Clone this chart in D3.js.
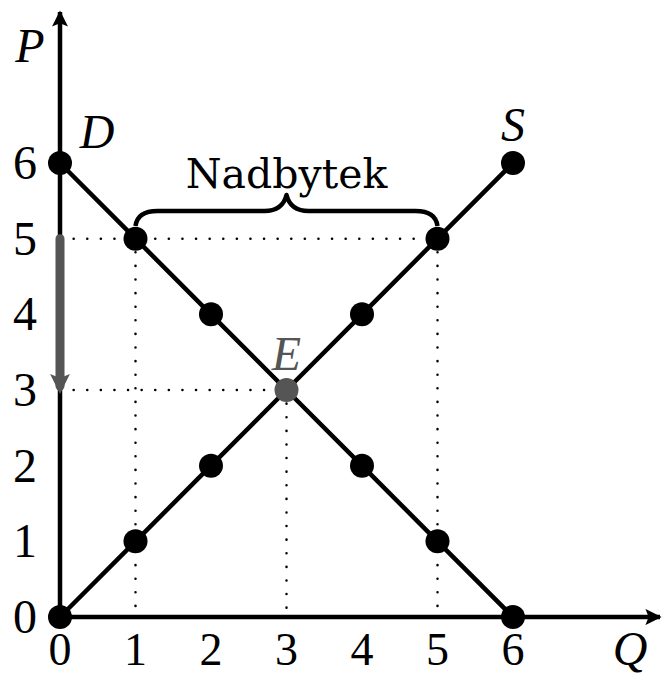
<!DOCTYPE html>
<html>
<head>
<meta charset="utf-8">
<script src="https://cdn.jsdelivr.net/npm/d3@7"></script>
<style>
  body { margin: 0; background: #fff; }
  text { font-family: "Liberation Serif", "DejaVu Serif", serif; }
</style>
</head>
<body>
<div class="canvas"></div>
<script>
// data
const ticks = [0, 1, 2, 3, 4, 5, 6];
const demand = [[0, 6], [1, 5], [2, 4], [3, 3], [4, 2], [5, 1], [6, 0]];
const supply = [[0, 0], [1, 1], [2, 2], [3, 3], [4, 4], [5, 5], [6, 6]];
const equilibrium = [3, 3];
const priceHigh = 5;
const surplusQ = [1, 5];

const width = 662, height = 675;
const svg = d3.select('.canvas').append('svg')
  .attr('width', width).attr('height', height);

const x = d3.scaleLinear().domain([0, 6]).range([60, 513]);
const y = d3.scaleLinear().domain([0, 6]).range([617, 163]);

const defs = svg.append('defs');
defs.append('marker').attr('id', 'ax').attr('viewBox', '0 0 10 10')
  .attr('refX', 9).attr('refY', 5).attr('markerWidth', 3.6).attr('markerHeight', 3.6)
  .attr('orient', 'auto').attr('markerUnits', 'strokeWidth')
  .append('path').attr('d', 'M0,0 L10,5 L0,10 L2,5 Z').attr('fill', 'black');
defs.append('marker').attr('id', 'gr').attr('viewBox', '0 0 10 10')
  .attr('refX', 6).attr('refY', 5).attr('markerWidth', 2.2).attr('markerHeight', 2.2)
  .attr('orient', 'auto').attr('markerUnits', 'strokeWidth')
  .append('path').attr('d', 'M0,0 L10,5 L0,10 L2,5 Z').attr('fill', '#555');

// dotted guides
const dots = svg.append('g').attr('stroke', 'black').attr('stroke-width', 2.5)
  .attr('stroke-dasharray', '0.1 13.5').attr('stroke-linecap', 'round');
dots.append('line').attr('x1', x(0)).attr('x2', x(surplusQ[1])).attr('y1', y(priceHigh)).attr('y2', y(priceHigh));
surplusQ.forEach(q => dots.append('line').attr('x1', x(q)).attr('x2', x(q)).attr('y1', y(priceHigh)).attr('y2', y(0)));
dots.append('line').attr('x1', x(0)).attr('x2', x(equilibrium[0])).attr('y1', y(equilibrium[1])).attr('y2', y(equilibrium[1]));
dots.append('line').attr('x1', x(equilibrium[0])).attr('x2', x(equilibrium[0])).attr('y1', y(equilibrium[1])).attr('y2', y(0));

// axes
svg.append('line').attr('x1', x(0)).attr('y1', y(0)).attr('x2', x(0)).attr('y2', 12)
  .attr('stroke', 'black').attr('stroke-width', 4.5).attr('marker-end', 'url(#ax)');
svg.append('line').attr('x1', x(0)).attr('y1', y(0)).attr('x2', 660).attr('y2', y(0))
  .attr('stroke', 'black').attr('stroke-width', 4.5).attr('marker-end', 'url(#ax)');

// curves
const line = d3.line().x(d => x(d[0])).y(d => y(d[1]));
[demand, supply].forEach(s => svg.append('path').attr('d', line(s))
  .attr('fill', 'none').attr('stroke', 'black').attr('stroke-width', 4.5));

// gray price arrow
svg.append('line').attr('x1', x(0)).attr('x2', x(0))
  .attr('y1', y(priceHigh)).attr('y2', y(equilibrium[1]) - 4)
  .attr('stroke', '#555').attr('stroke-width', 9).attr('stroke-linecap', 'round')
  .attr('marker-end', 'url(#gr)');

// points
const pts = demand.concat(supply).filter(d => !(d[0] === equilibrium[0] && d[1] === equilibrium[1]));
svg.selectAll('circle.pt').data(pts).enter().append('circle')
  .attr('cx', d => x(d[0])).attr('cy', d => y(d[1])).attr('r', 12).attr('fill', 'black');
svg.append('circle').attr('cx', x(equilibrium[0])).attr('cy', y(equilibrium[1])).attr('r', 12).attr('fill', '#555');

// brace
const bx1 = x(surplusQ[0]), bx2 = x(surplusQ[1]), bm = (bx1 + bx2) / 2;
const by = 226, bt = 211, tip = 195;
svg.append('path')
  .attr('d', `M${bx1},${by} Q${bx1 + 2},${bt} ${bx1 + 22},${bt} L${bm - 22},${bt} Q${bm - 4},${bt} ${bm},${tip}` +
    ` Q${bm + 4},${bt} ${bm + 22},${bt} L${bx2 - 22},${bt} Q${bx2 - 2},${bt} ${bx2},${by}`)
  .attr('fill', 'none').attr('stroke', 'black').attr('stroke-width', 4.5).attr('stroke-linejoin', 'round');
svg.append('text').attr('x', bm).attr('y', 188).attr('text-anchor', 'middle')
  .style('font-family', '"DejaVu Serif", serif')
  .attr('font-size', 41).text('Nadbytek');

// tick labels
svg.selectAll('text.yt').data(ticks).enter().append('text')
  .attr('x', 25).attr('y', d => y(d) + 16).attr('text-anchor', 'middle')
  .attr('font-size', 48).text(d => d);
svg.selectAll('text.xt').data(ticks).enter().append('text')
  .attr('x', d => x(d)).attr('y', 665).attr('text-anchor', 'middle')
  .attr('font-size', 46).text(d => d);

// letters
const lab = (t, lx, ly, c) => svg.append('text').attr('x', lx).attr('y', ly)
  .attr('text-anchor', 'middle').attr('font-size', 48).attr('font-style', 'italic')
  .attr('fill', c || 'black').text(t);
lab('P', 30, 62);
lab('Q', 630, 665);
lab('D', x(0) + 37, y(6) - 15);
lab('S', x(6), y(6) - 22);
lab('E', x(3), y(3) - 20, '#555');
</script>
</body>
</html>
